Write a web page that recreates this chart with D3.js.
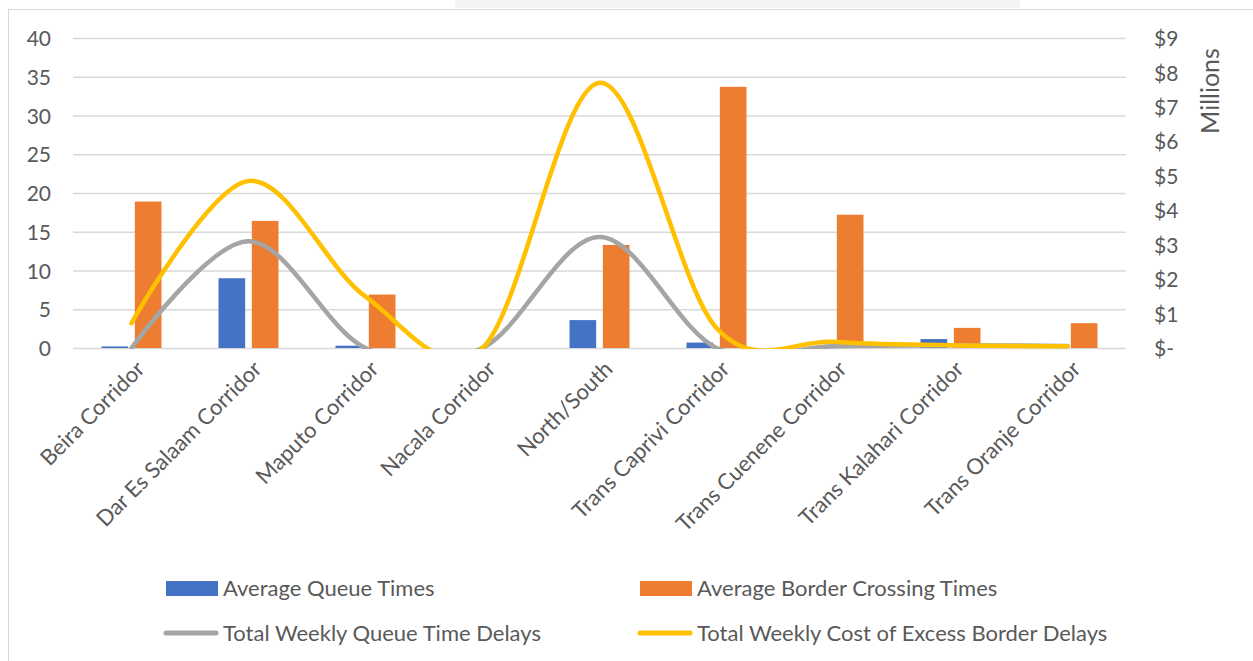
<!DOCTYPE html>
<html>
<head>
<meta charset="utf-8">
<script src="https://cdn.jsdelivr.net/npm/d3@7"></script>
<style>
  html, body { margin: 0; padding: 0; background: #fff; }
  svg { display: block; }
  text { font-family: Lato, "Open Sans", sans-serif; fill: #595959; }
</style>
</head>
<body>
<svg id="chart" width="1253" height="661"></svg>
<script>
// Corridors along the x axis
const categories = [
  "Beira Corridor", "Dar Es Salaam Corridor", "Maputo Corridor", "Nacala Corridor",
  "North/South", "Trans Caprivi Corridor", "Trans Cuenene Corridor",
  "Trans Kalahari Corridor", "Trans Oranje Corridor"
];

// Bars (left axis)
const avgQueueTimes = [0.2, 9.0, 0.3, 0, 3.6, 0.7, 0, 1.15, 0];
const avgBorderCrossingTimes = [18.9, 16.4, 6.9, 0, 13.3, 33.7, 17.2, 2.6, 3.2];

// Lines (right axis, $ millions)
const weeklyQueueDelays = [0, 3.1, 0, 0, 3.22, 0, 0.05, 0.08, 0.06];
const weeklyExcessCost = [0.72, 4.85, 1.49, 0, 7.7, 0.58, 0.18, 0.08, 0.05];

// Axis ticks
const leftTicks = [0, 5, 10, 15, 20, 25, 30, 35, 40];
const rightTicks = [0, 1, 2, 3, 4, 5, 6, 7, 8, 9];

const seriesNames = ["Average Queue Times", "Average Border Crossing Times",
                     "Total Weekly Queue Time Delays", "Total Weekly Cost of Excess Border Delays"];
const colors = ["#4472c4", "#ed7d31", "#a5a5a5", "#ffc000"];

const svg = d3.select("#chart");

// faint band above the frame
svg.append("rect").attr("x", 455).attr("y", 0).attr("width", 565).attr("height", 8)
  .attr("fill", "#f4f4f4");

// chart frame
svg.append("rect").attr("x", 8.5).attr("y", 9.5).attr("width", 1300).attr("height", 700)
  .attr("fill", "#fff").attr("stroke", "#d9d9d9").attr("stroke-width", 1);

const plot = { left: 73, right: 1126, top: 38, bottom: 348 };

const x = d3.scaleBand().domain(categories).range([plot.left, plot.right]).padding(0);
const cx = d => x(d) + x.bandwidth() / 2;
const xSeries = d3.scaleBand().domain([0, 1]).range([-30, 30]).paddingInner(0.2);

const yL = d3.scaleLinear().domain([0, 40]).range([plot.bottom, plot.top]);
const yR = d3.scaleLinear().domain([0, 9]).range([plot.bottom, plot.top]);

// gridlines + left axis
const gLeft = svg.append("g").attr("transform", `translate(${plot.left},0)`)
  .call(d3.axisLeft(yL).tickValues(leftTicks).tickSize(-(plot.right - plot.left)).tickPadding(22));
gLeft.select(".domain").remove();
gLeft.selectAll(".tick line").attr("stroke", "#d9d9d9").attr("stroke-width", 1.5);
gLeft.selectAll(".tick text").style("font-size", "21px").attr("dy", "0.36em");

// right axis
const gRight = svg.append("g").attr("transform", `translate(${plot.right},0)`)
  .call(d3.axisRight(yR).tickValues(rightTicks).tickSize(0).tickPadding(28)
    .tickFormat(v => v === 0 ? "$-" : "$" + v));
gRight.select(".domain").remove();
gRight.selectAll(".tick text").style("font-size", "21px").attr("dy", "0.36em");

svg.append("text").attr("transform", "translate(1219,91) rotate(-90)")
  .attr("text-anchor", "middle").style("font-size", "25px").text("Millions");

// bars
const barData = [avgQueueTimes, avgBorderCrossingTimes];
barData.forEach((vals, si) => {
  svg.append("g").selectAll("rect").data(categories).join("rect")
    .attr("x", (d) => cx(d) + xSeries(si))
    .attr("width", xSeries.bandwidth())
    .attr("y", (d, i) => yL(vals[i]))
    .attr("height", (d, i) => plot.bottom - yL(vals[i]))
    .attr("fill", colors[si]);
});

// clip for smoothed lines
svg.append("clipPath").attr("id", "plotClip").append("rect")
  .attr("x", plot.left).attr("y", plot.top - 10)
  .attr("width", plot.right - plot.left).attr("height", plot.bottom - plot.top + 11);

const line = d3.line().x(d => d[0]).y(d => d[1]).curve(d3.curveCatmullRom.alpha(0));
[weeklyQueueDelays, weeklyExcessCost].forEach((vals, li) => {
  svg.append("path")
    .attr("clip-path", "url(#plotClip)")
    .attr("d", line(categories.map((c, i) => [cx(c), yR(vals[i])])))
    .attr("fill", "none").attr("stroke", colors[li + 2]).attr("stroke-width", 4.5)
    .attr("stroke-linecap", "round").attr("stroke-linejoin", "round");
});

// category labels
svg.append("g").selectAll("text").data(categories).join("text")
  .attr("transform", d => `translate(${cx(d) + 9},${plot.bottom + 17}) rotate(-45)`)
  .attr("text-anchor", "end").attr("dy", "0.35em")
  .style("font-size", "22px").text(d => d);

// legend
const legend = [
  { x: 166, y: 588, type: "rect", i: 0 },
  { x: 640, y: 588, type: "rect", i: 1 },
  { x: 166, y: 633, type: "line", i: 2 },
  { x: 640, y: 633, type: "line", i: 3 }
];
const lg = svg.append("g");
legend.forEach(l => {
  if (l.type === "rect") {
    lg.append("rect").attr("x", l.x).attr("y", l.y - 7).attr("width", 52).attr("height", 15)
      .attr("fill", colors[l.i]);
  } else {
    lg.append("line").attr("x1", l.x).attr("x2", l.x + 50).attr("y1", l.y).attr("y2", l.y)
      .attr("stroke", colors[l.i]).attr("stroke-width", 5).attr("stroke-linecap", "round");
  }
  lg.append("text").attr("x", l.x + 57).attr("y", l.y).attr("dy", "0.35em")
    .style("font-size", "22px").text(seriesNames[l.i]);
});
</script>
</body>
</html>
